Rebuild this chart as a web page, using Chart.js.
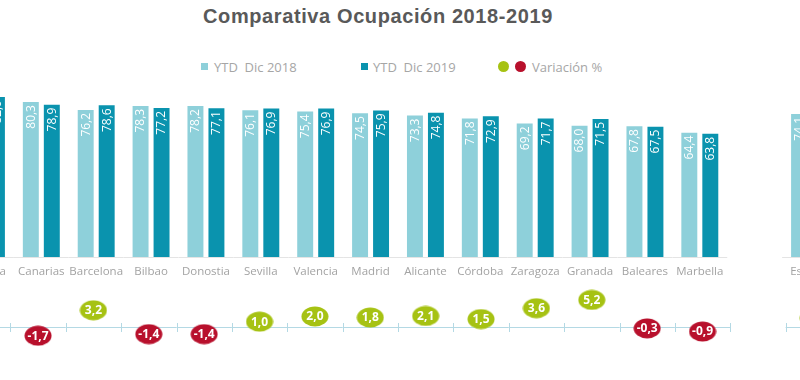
<!DOCTYPE html>
<html><head><meta charset="utf-8">
<script src="https://cdn.jsdelivr.net/npm/chart.js@4/dist/chart.umd.min.js"></script>
<style>
html,body{margin:0;padding:0;background:#fff;width:800px;height:380px;overflow:hidden;}
body{position:relative;font-family:"Open Sans",sans-serif;}
#title{position:absolute;left:0;top:6px;width:756px;text-align:center;font:bold 20px "Liberation Sans",Arial,sans-serif;letter-spacing:0.6px;line-height:1;color:#595959;}
.lg{position:absolute;top:60px;line-height:14px;font-size:13px;color:#a6a6a6;white-space:pre;}
.sq{position:absolute;width:7px;height:7px;top:63px;}
.dot{position:absolute;width:11px;height:11px;border-radius:50%;top:61px;}
canvas{position:absolute;}
</style></head>
<body>
<div id="title">Comparativa Ocupación 2018-2019</div>
<div class="sq" style="left:201px;background:#8ed0da"></div><div class="lg" style="left:214px">YTD  Dic 2018</div>
<div class="sq" style="left:361px;background:#0a93ae"></div><div class="lg" style="left:373px">YTD  Dic 2019</div>
<div class="dot" style="left:498px;background:#a6c213"></div><div class="dot" style="left:515px;background:#b8102c"></div><div class="lg" style="left:532px">Variación %</div>
<canvas id="bars" width="878" height="223" style="left:-41px;top:64px"></canvas>
<canvas id="vars" width="886" height="83" style="left:-45px;top:275px"></canvas>
<script>
const categories = ["Málaga","Canarias","Barcelona","Bilbao","Donostia","Sevilla","Valencia","Madrid","Alicante","Córdoba","Zaragoza","Granada","Baleares","Marbella","","España"];
const ytd2018 = [84.3,80.3,76.2,78.3,78.2,76.1,75.4,74.5,73.3,71.8,69.2,68.0,67.8,64.4,null,74.1];
const ytd2019 = [82.9,78.9,78.6,77.2,77.1,76.9,76.9,75.9,74.8,72.9,71.7,71.5,67.5,63.8,null,75.4];
const variacion = [-1.7,-1.7,3.2,-1.4,-1.4,1.0,2.0,1.8,2.1,1.5,3.6,5.2,-0.3,-0.9,null,1.7];

const C18='#8ed0da', C19='#0a93ae', CUP='#a6c213', CDOWN='#b8102c';
const fmt = v => v.toFixed(1).replace('.',',');

function segments(chart, yPix, color, ticks){
  const xs = chart.scales.x, ctx = chart.ctx;
  const w = (xs.right - xs.left)/categories.length;
  ctx.save(); ctx.strokeStyle = color; ctx.lineWidth = 1;
  categories.forEach((c,i)=>{
    if(!c) return;
    const l = xs.left + i*w;
    ctx.beginPath(); ctx.moveTo(l, yPix+0.5); ctx.lineTo(l+w, yPix+0.5); ctx.stroke();
    if(ticks){
      [l, l+w].forEach(x=>{ctx.beginPath();ctx.moveTo(Math.round(x)+0.5,yPix-4);ctx.lineTo(Math.round(x)+0.5,yPix+5);ctx.stroke();});
    }
  });
  ctx.restore();
}

const barPlugin = {
  id:'barPlugin',
  beforeDatasetsDraw(chart){
    segments(chart, Math.round(chart.scales.y.getPixelForValue(0)), '#e4e4e4', false);
  },
  afterDatasetsDraw(chart){
    const ctx = chart.ctx;
    chart.data.datasets.forEach((ds,i)=>{
      chart.getDatasetMeta(i).data.forEach((bar,j)=>{
        const v = ds.data[j]; if(v==null) return;
        ctx.save(); ctx.translate(bar.x, bar.y+3); ctx.rotate(-Math.PI/2);
        ctx.textAlign='right'; ctx.textBaseline='middle'; ctx.fillStyle='#fff';
        ctx.font='12px "Open Sans"'; ctx.fillText(fmt(v),0,0.5); ctx.restore();
      });
    });
  }
};

new Chart(document.getElementById('bars'), {
  type:'bar',
  data:{labels:categories, datasets:[
    {label:'YTD  Dic 2018', data:ytd2018, backgroundColor:C18, categoryPercentage:0.765, barPercentage:0.76},
    {label:'YTD  Dic 2019', data:ytd2019, backgroundColor:C19, categoryPercentage:0.765, barPercentage:0.76}
  ]},
  options:{responsive:false, animation:false, layout:{padding:0, autoPadding:false},
    plugins:{legend:{display:false}, tooltip:{enabled:false}},
    scales:{
      x:{grid:{display:false, drawTicks:false}, border:{display:false},
         ticks:{padding:8, color:'#a3a3a3', font:{family:'"Open Sans"', size:11.5}, maxRotation:0, autoSkip:false},
         afterFit(s){ s.height = 30; }},
      y:{display:false, min:0, max:100}
    }},
  plugins:[barPlugin]
});

function ellipse(color){
  const c = document.createElement('canvas'); c.width=28; c.height=21;
  const x = c.getContext('2d'); x.fillStyle=color; x.beginPath(); x.ellipse(14,10.5,13.5,10,0,0,Math.PI*2); x.fill();
  return c;
}
const eUp = ellipse(CUP), eDown = ellipse(CDOWN);

const varPlugin = {
  id:'varPlugin',
  beforeDatasetsDraw(chart){
    segments(chart, Math.round(chart.scales.y.getPixelForValue(0)), '#b4d9e4', true);
  },
  afterDatasetsDraw(chart){
    const ctx = chart.ctx;
    chart.getDatasetMeta(0).data.forEach((p,j)=>{
      const v = variacion[j]; if(v==null) return;
      ctx.save(); ctx.textAlign='center'; ctx.textBaseline='middle'; ctx.fillStyle='#fff';
      ctx.font='bold 12px "Open Sans"'; ctx.fillText(fmt(v), p.x, p.y+0.5); ctx.restore();
    });
  }
};

new Chart(document.getElementById('vars'), {
  type:'line',
  data:{labels:categories, datasets:[{label:'Variación %', data:variacion, showLine:false, clip:false,
    pointStyle: variacion.map(v => v!=null && v<0 ? eDown : eUp), pointRadius:10}]},
  options:{responsive:false, animation:false, layout:{padding:0, autoPadding:false},
    plugins:{legend:{display:false}, tooltip:{enabled:false}},
    scales:{x:{display:false, offset:true}, y:{display:false, min:-6, max:10}}},
  plugins:[varPlugin]
});
</script>
</body></html>
